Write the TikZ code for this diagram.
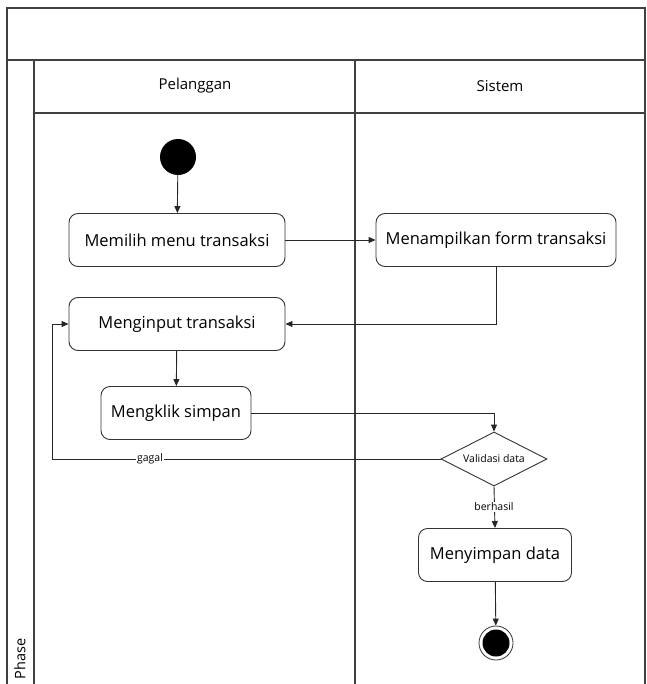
\documentclass[tikz,border=0pt]{standalone}
\usepackage{fontspec}
\setmainfont{Open Sans}
\usetikzlibrary{shapes.geometric,arrows.meta}
\begin{document}
\begin{tikzpicture}[x=1pt,y=-1pt,
  frame/.style={draw=black!75,line width=1.3pt},
  act/.style={draw=black!80,line width=0.9pt,rounded corners=9pt,fill=white,
    minimum height=53pt,inner sep=0pt,font=\fontsize{16.5}{18}\selectfont},
  flow/.style={draw=black!85,line width=0.9pt,-{Triangle[length=7pt,width=6pt]}},
  lbl/.style={font=\fontsize{10.5}{12}\selectfont,inner sep=1pt}]
\useasboundingbox (0,0) rectangle (646,684);
% swimlane frame
\draw[frame] (7,684) -- (7,8) -- (646,8);
\draw[frame] (7,60) -- (646,60);
\draw[frame] (34,60) -- (34,684);
\draw[frame] (34,113) -- (646,113);
\draw[frame] (355,60) -- (355,684);
\draw[frame] (645,8) -- (645,684);
\node[font=\fontsize{15}{17}\selectfont] (laneA) at (195,86) {Pelanggan};
\node[font=\fontsize{15}{17}\selectfont] (laneB) at (500,86) {Sistem};
\node[font=\fontsize{14.5}{16}\selectfont,rotate=90] (phase) at (20,659) {Phase};
% activity nodes
\node[circle,fill=black,minimum size=36pt,inner sep=0pt] (start) at (178,157) {};
\node[act,minimum width=216pt] (memilih) at (177,240) {Memilih menu transaksi};
\node[act,minimum width=240pt] (tampil) at (496,240) {Menampilkan form transaksi};
\node[act,minimum width=216pt] (input) at (177,324) {Menginput transaksi};
\node[act,minimum width=150pt] (klik) at (176,413) {Mengklik simpan};
\node[diamond,draw=black!80,line width=0.9pt,fill=white,aspect=2,minimum width=106pt,
  minimum height=54pt,inner sep=0pt,font=\fontsize{10.5}{12}\selectfont] (valid) at (494,459) {Validasi data};
\node[act,minimum width=153pt] (simpan) at (495,555) {Menyimpan data};
\node[circle,draw=black!80,line width=0.8pt,minimum size=34pt,inner sep=0pt] (end) at (496,643) {};
\node[circle,fill=black,minimum size=27pt,inner sep=0pt] (endin) at (496,643) {};
\coordinate (loop) at (52,459);
% flows
\draw[flow] (start) -- (memilih);
\draw[flow] (memilih) -- (tampil);
\draw[flow] (tampil.south) |- (input.east);
\draw[flow] (input) -- (klik);
\draw[flow] (klik.east) -| (valid.north);
\draw[flow] (valid.west) -- (loop) |- (input.west);
\node[lbl,fill=white] (gagal) at (150,459) {gagal};
\draw[flow] (valid.south) -- (simpan.north);
\node[lbl,fill=white] (berhasil) at (494,507) {berhasil};
\draw[flow] (simpan) -- (end);
\end{tikzpicture}
\end{document}
